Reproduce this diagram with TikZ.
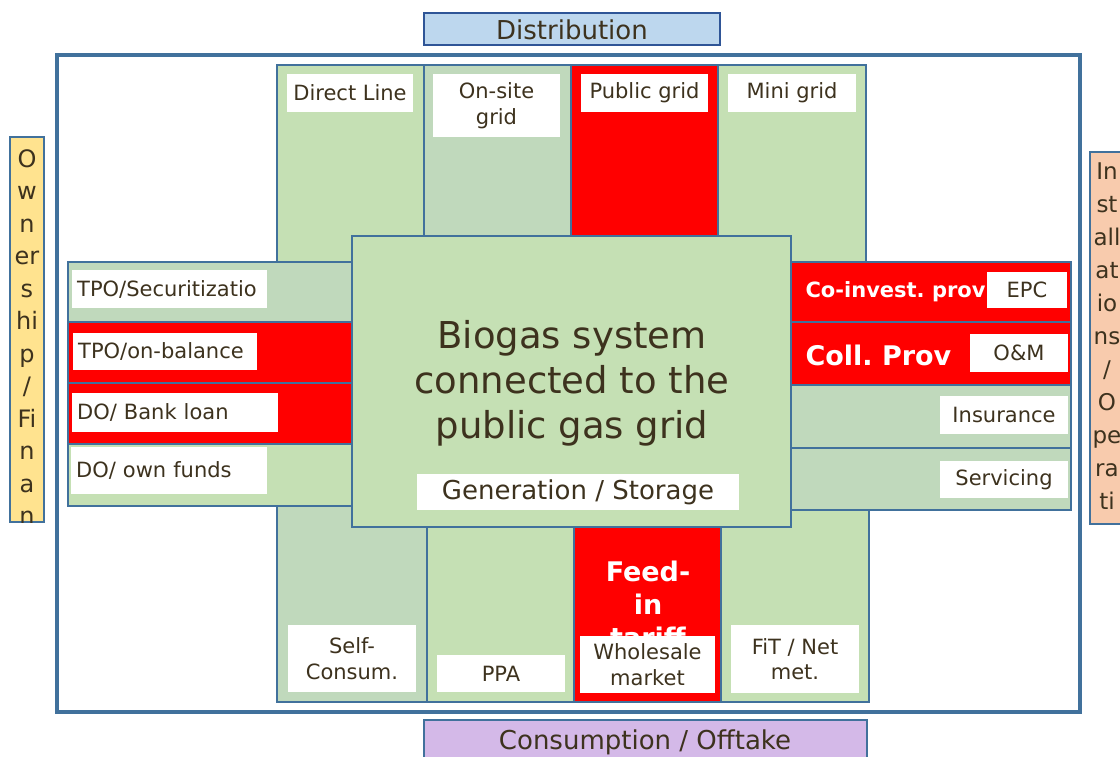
\documentclass[tikz,border=0pt]{standalone}
\usepackage{fontspec}
\setmainfont{DejaVu Sans}
\definecolor{ink}{HTML}{3D321E}
\definecolor{edge}{HTML}{41719C}
\definecolor{lgreen}{HTML}{C5E0B4}
\definecolor{sgreen}{HTML}{C0D9BC}
\definecolor{distfill}{HTML}{BDD7EE}
\definecolor{distedge}{HTML}{2F5597}
\definecolor{consfill}{HTML}{D4B9E8}
\definecolor{ownfill}{HTML}{FFE38F}
\definecolor{instfill}{HTML}{F8CBAD}
\begin{document}
\frenchspacing
\begin{tikzpicture}[x=1pt, y=-1pt,
    cell/.style = {draw=edge, line width=2pt},
    tag/.style = {fill=white, text=ink, inner sep=0pt, align=center, font=\fontsize{21}{25.5}\selectfont},
    ltag/.style = {tag, align=left, inner xsep=5pt},
    head/.style = {text=ink, font=\fontsize{26}{30}\selectfont},
    bold/.style = {text=white, font=\bfseries\fontsize{#1}{33}\selectfont}]
    \path[use as bounding box, clip] (0,0) rectangle (1120,757);
    \draw[edge, line width=4pt, fill=white] (57,55) rectangle (1080,712);
    % headings outside the frame
    \draw[draw=distedge, line width=2pt, fill=distfill] (424,13) rectangle (720,45);
    \node[head] (dist) at (572,30) {Distribution};
    \draw[cell, fill=consfill] (424,720) rectangle (867,780);
    \node[head] (cons) at (645,742) {Consumption / Offtake};
    \draw[cell, fill=ownfill] (10,137) rectangle (44,522);
    \begin{scope}
        \clip (10,137) rectangle (44,522);
        \node[head, anchor=north, align=center, font=\fontsize{24}{32.5}\selectfont] (own) at (27,146)
            {O\\w\\n\\er\\s\\hi\\p\\/\\Fi\\n\\a\\n\\c};
    \end{scope}
    \draw[cell, fill=instfill] (1090,152) rectangle (1135,524);
    \begin{scope}
        \clip (1090,152) rectangle (1135,524);
        \node[head, anchor=north, align=center, font=\fontsize{23}{33}\selectfont] (inst) at (1107,159)
            {In\\st\\all\\at\\io\\ns\\/\\O\\pe\\ra\\ti\\o};
    \end{scope}
    % top columns
    \draw[cell, fill=lgreen] (277,65) rectangle (424,262);
    \draw[cell, fill=sgreen] (424,65) rectangle (571,236);
    \draw[cell, fill=red] (571,65) rectangle (718,236);
    \draw[cell, fill=lgreen] (718,65) rectangle (866,262);
    % left rows
    \draw[cell, fill=sgreen] (68,262) rectangle (352,322);
    \draw[cell, fill=red] (68,322) rectangle (352,383);
    \draw[cell, fill=red] (68,383) rectangle (352,444);
    \draw[cell, fill=lgreen] (68,444) rectangle (352,506);
    % right rows
    \draw[cell, fill=red] (790,262) rectangle (1071,322);
    \draw[cell, fill=red] (790,322) rectangle (1071,385);
    \draw[cell, fill=sgreen] (790,385) rectangle (1071,448);
    \draw[cell, fill=sgreen] (790,448) rectangle (1071,510);
    % bottom columns
    \draw[cell, fill=sgreen] (277,506) rectangle (427,702);
    \draw[cell, fill=lgreen] (427,527) rectangle (574,702);
    \draw[cell, fill=red] (574,527) rectangle (721,702);
    \draw[cell, fill=lgreen] (721,510) rectangle (869,702);
    % centre
    \draw[cell, fill=lgreen] (352,236) rectangle (791,527);
    \node[text=ink, align=center, font=\fontsize{37}{45}\selectfont] (sys) at (572,383)
        {Biogas system\\connected to the\\public gas grid};
    \node[tag, font=\fontsize{26}{30}\selectfont, minimum width=322pt, minimum height=36pt] (gen) at (578,492) {Generation / Storage};
    % labels
    \node[tag, minimum width=126pt, minimum height=38pt] (dl) at (350,93) {Direct Line};
    \node[tag, minimum width=127pt, minimum height=63pt] (os) at (496.5,105.5) {On-site\\grid};
    \node[tag, minimum width=127pt, minimum height=38pt] (pg) at (644.5,93) {Public grid};
    \node[tag, minimum width=128pt, minimum height=38pt] (mg) at (792,93) {Mini grid};
    \node[ltag, text width=185pt, minimum height=38pt, anchor=west] (tpos) at (72,289) {TPO/Securitizatio};
    \node[ltag, text width=174pt, minimum height=37pt, anchor=west] (tpob) at (73,351.5) {TPO/on-balance};
    \node[ltag, text width=196pt, minimum height=39pt, anchor=west] (bank) at (72,412.5) {DO/ Bank loan};
    \node[ltag, text width=186pt, minimum height=47pt, anchor=west] (fund) at (71,470.5) {DO/ own funds};
    \node[bold=21, anchor=west] (coinv) at (802,292) {Co-invest. prov};
    \node[bold=27, anchor=west] (coll) at (802,355) {Coll. Prov};
    \node[tag, minimum width=80pt, minimum height=36pt] (epc) at (1027,290) {EPC};
    \node[tag, minimum width=98pt, minimum height=38pt] (om) at (1019,353) {O\&M};
    \node[tag, minimum width=128pt, minimum height=38pt] (ins) at (1004,415) {Insurance};
    \node[tag, minimum width=128pt, minimum height=37pt] (serv) at (1004,479.5) {Servicing};
    \node[bold=27, align=center] (fit) at (648,604) {Feed-\\in\\tariff};
    \node[tag, minimum width=128pt, minimum height=67pt] (self) at (352,658.5) {Self-\\Consum.};
    \node[tag, minimum width=128pt, minimum height=37pt] (ppa) at (501,673.5) {PPA};
    \node[tag, minimum width=135pt, minimum height=57pt] (whole) at (647.5,664.5) {Wholesale\\market};
    \node[tag, minimum width=128pt, minimum height=68pt] (net) at (795,659) {FiT / Net\\met.};
\end{tikzpicture}
\end{document}
